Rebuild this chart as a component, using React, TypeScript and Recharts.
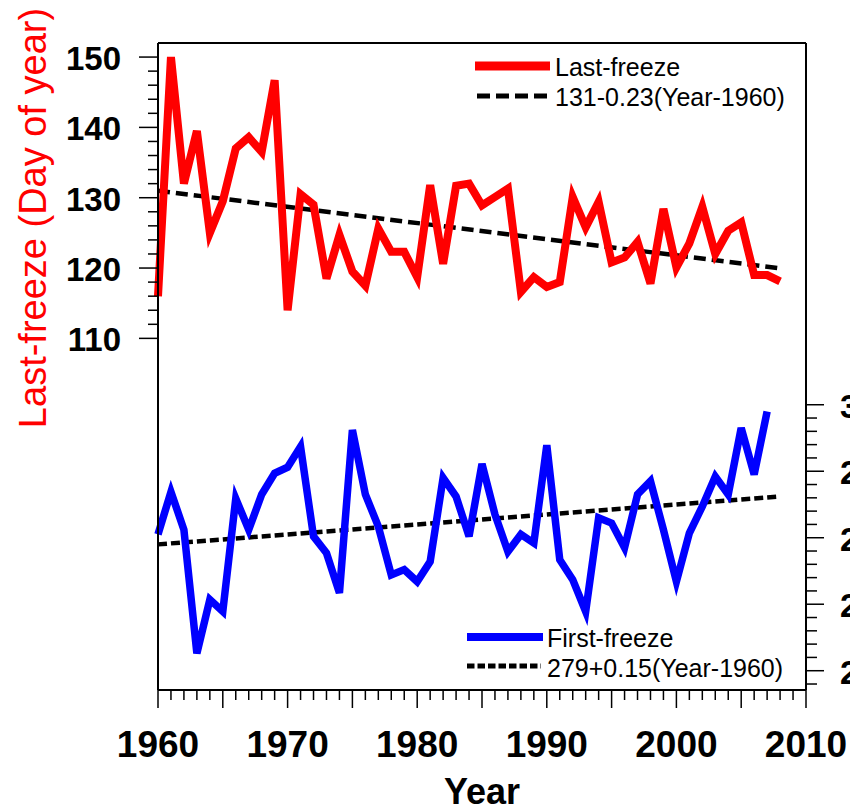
import { LineChart, Line, XAxis, YAxis, Legend, Label, ReferenceLine } from 'recharts'

const FONT = '"Liberation Sans", Arial, Helvetica, sans-serif'

// last-freeze day of year, 1960-2008
const lastYears = [
  1960, 1961, 1962, 1963, 1964, 1965, 1966, 1967, 1968, 1969,
  1970, 1971, 1972, 1973, 1974, 1975, 1976, 1977, 1978, 1979,
  1980, 1981, 1982, 1983, 1984, 1985, 1986, 1987, 1988, 1989,
  1990, 1991, 1992, 1993, 1994, 1995, 1996, 1997, 1998, 1999,
  2000, 2001, 2002, 2003, 2004, 2005, 2006, 2007, 2008,
]
const lastFreeze = [
  116, 150, 132, 139.5, 125, 129.5, 137, 138.6, 136.5, 146.7,
  114, 130.5, 129, 118.5, 124.7, 119.5, 117.5, 125.6, 122.3, 122.3,
  118.7, 131.8, 120.6, 131.7, 132, 128.9, 130.1, 131.3, 116.6, 118.7,
  117.3, 118, 130.1, 125.8, 129.4, 120.8, 121.5, 123.7, 117.8, 128.4,
  120.1, 123.5, 128.7, 122, 125.3, 126.5, 119, 119, 118.1,
]

// first-freeze day of year, 1960-2007
const firstYears = lastYears.slice(0, 48)
const firstFreeze = [
  280.5, 286.9, 281.2, 262.6, 270.7, 268.9, 285.9, 281.2, 286.5, 289.7,
  290.6, 293.7, 280.2, 277.7, 271.7, 296.2, 286.5, 281.7, 274.4, 275.2,
  273.4, 276.4, 289, 286.2, 280.2, 291.1, 283.5, 277.9, 280.5, 279.2,
  293.9, 276.7, 273.7, 268.9, 283, 282.2, 278.5, 286.5, 288.5, 281.2,
  273.4, 280.7, 284.7, 289.2, 286.5, 296.5, 289.5, 299,
]

// fitted trends (end points)
const trendYears = [1960, 2008]
const lastTrend = [131, 119.96]
const firstTrend = [279, 286.2]

const xLabels = [1960, 1970, 1980, 1990, 2000, 2010]
const leftLabels = [110, 120, 130, 140, 150]
const rightLabels = [260, 270, 280, 290, 300]
const legendLast = ['Last-freeze', '131-0.23(Year-1960)']
const legendFirst = ['First-freeze', '279+0.15(Year-1960)']

const lastData = lastYears.map((year, i) => ({ year, value: lastFreeze[i] }))
const firstData = firstYears.map((year, i) => ({ year, value: firstFreeze[i] }))
const lastTrendData = trendYears.map((year, i) => ({ year, value: lastTrend[i] }))
const firstTrendData = trendYears.map((year, i) => ({ year, value: firstTrend[i] }))

const xTicks: number[] = []
for (let y = 1960; y <= 2010; y++) xTicks.push(y)
const leftTicks: number[] = []
for (let v = 110; v <= 150; v += 2) leftTicks.push(v)
const rightTicks: number[] = []
for (let v = 258; v <= 300; v += 2) rightTicks.push(v)

function XTick({ x, y, payload }: any) {
  const v = payload.value
  const long = v % 5 === 0
  return (
    <g>
      <line x1={x} x2={x} y1={y} y2={y + (long ? 18 : 10)} stroke="#000" strokeWidth={1.5} />
      {xLabels.includes(v) && (
        <text x={x} y={y + 67} textAnchor="middle" fontFamily={FONT} fontWeight="bold" fontSize={37} fill="#000">
          {v}
        </text>
      )}
    </g>
  )
}

function LeftTick({ x, y, payload }: any) {
  const v = payload.value
  const major = leftLabels.includes(v)
  return (
    <g>
      <line x1={x} x2={x - (major ? 19 : 10)} y1={y} y2={y} stroke="#000" strokeWidth={1.5} />
      {major && (
        <text x={x - 37} y={y + 13} textAnchor="end" fontFamily={FONT} fontWeight="bold" fontSize={33} fill="#000">
          {v}
        </text>
      )}
    </g>
  )
}

function RightTick({ x, y, payload }: any) {
  const v = payload.value
  const major = rightLabels.includes(v)
  return (
    <g>
      <line x1={x} x2={x + (major ? 18 : 11)} y1={y} y2={y} stroke="#000" strokeWidth={1.5} />
      {major && (
        <text x={x + 34} y={y + 13} textAnchor="start" fontFamily={FONT} fontWeight="bold" fontSize={33} fill="#000">
          {v}
        </text>
      )}
    </g>
  )
}

function LegendBoxes() {
  const txt = { fontFamily: FONT, fontSize: 25, fill: '#000' }
  return (
    <svg width={850} height={811} style={{ position: 'absolute', left: 0, top: 0 }}>
      <line x1={475} x2={550} y1={66} y2={66} stroke="#ff0000" strokeWidth={9} />
      <text x={555} y={76} {...txt}>{legendLast[0]}</text>
      <line x1={477} x2={548} y1={96} y2={96} stroke="#000" strokeWidth={5} strokeDasharray="13 6" />
      <text x={555} y={106} {...txt}>{legendLast[1]}</text>

      <line x1={467} x2={543} y1={637} y2={637} stroke="#0000ff" strokeWidth={8} />
      <text x={547} y={647} {...txt}>{legendFirst[0]}</text>
      <line x1={467} x2={541} y1={666} y2={666} stroke="#000" strokeWidth={5} strokeDasharray="7.5 3" />
      <text x={547} y={677} {...txt}>{legendFirst[1]}</text>
    </svg>
  )
}

export default function App() {
  return (
    <div style={{ position: 'absolute', left: 0, top: 0, width: 850, height: 811, overflow: 'hidden', background: '#fff' }}>
      <LineChart width={850} height={811} margin={{ top: 43, right: 0, bottom: 0, left: 0 }}>
        <XAxis
          type="number"
          dataKey="year"
          domain={[1960, 2010]}
          ticks={xTicks}
          interval={0}
          tickSize={0}
          tickMargin={0}
          tick={<XTick />}
          height={121}
          axisLine={{ stroke: '#000', strokeWidth: 2 }}
          allowDuplicatedCategory={false}
        >
          <Label
            content={() => (
              <text x={482} y={804} textAnchor="middle" fontFamily={FONT} fontWeight="bold" fontSize={36} fill="#000">
                Year
              </text>
            )}
          />
        </XAxis>
        <YAxis
          yAxisId="left"
          orientation="left"
          type="number"
          domain={[60, 152]}
          ticks={leftTicks}
          interval={0}
          tickSize={0}
          tickMargin={0}
          tick={<LeftTick />}
          width={158}
          axisLine={{ stroke: '#000', strokeWidth: 2 }}
          allowDataOverflow
        >
          <Label
            content={() => (
              <text
                x={0}
                y={0}
                transform="translate(46, 218) rotate(-90)"
                textAnchor="middle"
                fontFamily={FONT}
                fontSize={38}
                fill="#ff0000"
              >
                Last-freeze (Day of year)
              </text>
            )}
          />
        </YAxis>
        <YAxis
          yAxisId="right"
          orientation="right"
          type="number"
          domain={[257.1, 354.4]}
          ticks={rightTicks}
          interval={0}
          tickSize={0}
          tickMargin={0}
          tick={<RightTick />}
          width={44}
          axisLine={{ stroke: '#000', strokeWidth: 2 }}
          allowDataOverflow
        />
        {/* top edge of the frame */}
        <ReferenceLine yAxisId="left" y={152} stroke="#000" strokeWidth={2} />
        <Legend
          layout="vertical"
          align="center"
          verticalAlign="middle"
          content={<LegendBoxes />}
          wrapperStyle={{ position: 'absolute', left: 0, top: 0, width: 850, height: 811, pointerEvents: 'none' }}
        />
        <Line
          yAxisId="left"
          data={lastTrendData}
          dataKey="value"
          type="linear"
          stroke="#000"
          strokeWidth={4.5}
          strokeDasharray="12 6"
          dot={false}
          isAnimationActive={false}
        />
        <Line
          yAxisId="right"
          data={firstTrendData}
          dataKey="value"
          type="linear"
          stroke="#000"
          strokeWidth={4.5}
          strokeDasharray="9 4"
          dot={false}
          isAnimationActive={false}
        />
        <Line
          yAxisId="left"
          data={lastData}
          dataKey="value"
          type="linear"
          stroke="#ff0000"
          strokeWidth={8}
          dot={false}
          isAnimationActive={false}
        />
        <Line
          yAxisId="right"
          data={firstData}
          dataKey="value"
          type="linear"
          stroke="#0000ff"
          strokeWidth={7.5}
          dot={false}
          isAnimationActive={false}
        />
      </LineChart>
    </div>
  )
}
